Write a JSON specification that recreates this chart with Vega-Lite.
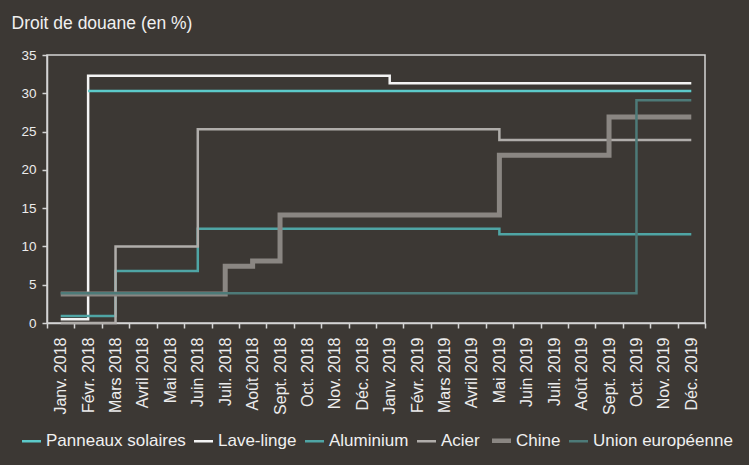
{
  "$schema": "https://vega.github.io/schema/vega-lite/v6.json",
  "width": 658,
  "height": 268,
  "autosize": "none",
  "padding": {"left": 47, "top": 55, "right": 44, "bottom": 142},
  "background": "#3c3834",
  "config": {
    "view": {"stroke": "#d4d4d4", "strokeWidth": 1.5},
    "axis": {
      "domainColor": "#d4d4d4", "domainWidth": 1.5,
      "tickColor": "#d4d4d4", "tickWidth": 1.5, "tickSize": 5,
      "labelColor": "#ececec", "labelFont": "Liberation Sans", "labelFontSize": 14,
      "grid": false
    },
    "legend": {"labelFont": "Liberation Sans"}
  },
  "data": {"values": [
    {"mois":"Janv. 2018","serie":"Lave-linge","valeur":0.5},
    {"mois":"Févr. 2018","serie":"Lave-linge","valeur":32.3},
    {"mois":"Mars 2018","serie":"Lave-linge","valeur":32.3},
    {"mois":"Avril 2018","serie":"Lave-linge","valeur":32.3},
    {"mois":"Mai 2018","serie":"Lave-linge","valeur":32.3},
    {"mois":"Juin 2018","serie":"Lave-linge","valeur":32.3},
    {"mois":"Juil. 2018","serie":"Lave-linge","valeur":32.3},
    {"mois":"Août 2018","serie":"Lave-linge","valeur":32.3},
    {"mois":"Sept. 2018","serie":"Lave-linge","valeur":32.3},
    {"mois":"Oct. 2018","serie":"Lave-linge","valeur":32.3},
    {"mois":"Nov. 2018","serie":"Lave-linge","valeur":32.3},
    {"mois":"Déc. 2018","serie":"Lave-linge","valeur":32.3},
    {"mois":"Janv. 2019","serie":"Lave-linge","valeur":31.3},
    {"mois":"Févr. 2019","serie":"Lave-linge","valeur":31.3},
    {"mois":"Mars 2019","serie":"Lave-linge","valeur":31.3},
    {"mois":"Avril 2019","serie":"Lave-linge","valeur":31.3},
    {"mois":"Mai 2019","serie":"Lave-linge","valeur":31.3},
    {"mois":"Juin 2019","serie":"Lave-linge","valeur":31.3},
    {"mois":"Juil. 2019","serie":"Lave-linge","valeur":31.3},
    {"mois":"Août 2019","serie":"Lave-linge","valeur":31.3},
    {"mois":"Sept. 2019","serie":"Lave-linge","valeur":31.3},
    {"mois":"Oct. 2019","serie":"Lave-linge","valeur":31.3},
    {"mois":"Nov. 2019","serie":"Lave-linge","valeur":31.3},
    {"mois":"Déc. 2019","serie":"Lave-linge","valeur":31.3},

    {"mois":"Févr. 2018","serie":"Panneaux solaires","valeur":30.3},
    {"mois":"Mars 2018","serie":"Panneaux solaires","valeur":30.3},
    {"mois":"Avril 2018","serie":"Panneaux solaires","valeur":30.3},
    {"mois":"Mai 2018","serie":"Panneaux solaires","valeur":30.3},
    {"mois":"Juin 2018","serie":"Panneaux solaires","valeur":30.3},
    {"mois":"Juil. 2018","serie":"Panneaux solaires","valeur":30.3},
    {"mois":"Août 2018","serie":"Panneaux solaires","valeur":30.3},
    {"mois":"Sept. 2018","serie":"Panneaux solaires","valeur":30.3},
    {"mois":"Oct. 2018","serie":"Panneaux solaires","valeur":30.3},
    {"mois":"Nov. 2018","serie":"Panneaux solaires","valeur":30.3},
    {"mois":"Déc. 2018","serie":"Panneaux solaires","valeur":30.3},
    {"mois":"Janv. 2019","serie":"Panneaux solaires","valeur":30.3},
    {"mois":"Févr. 2019","serie":"Panneaux solaires","valeur":30.3},
    {"mois":"Mars 2019","serie":"Panneaux solaires","valeur":30.3},
    {"mois":"Avril 2019","serie":"Panneaux solaires","valeur":30.3},
    {"mois":"Mai 2019","serie":"Panneaux solaires","valeur":30.3},
    {"mois":"Juin 2019","serie":"Panneaux solaires","valeur":30.3},
    {"mois":"Juil. 2019","serie":"Panneaux solaires","valeur":30.3},
    {"mois":"Août 2019","serie":"Panneaux solaires","valeur":30.3},
    {"mois":"Sept. 2019","serie":"Panneaux solaires","valeur":30.3},
    {"mois":"Oct. 2019","serie":"Panneaux solaires","valeur":30.3},
    {"mois":"Nov. 2019","serie":"Panneaux solaires","valeur":30.3},
    {"mois":"Déc. 2019","serie":"Panneaux solaires","valeur":30.3},

    {"mois":"Janv. 2018","serie":"Aluminium","valeur":0.9},
    {"mois":"Févr. 2018","serie":"Aluminium","valeur":0.9},
    {"mois":"Mars 2018","serie":"Aluminium","valeur":6.8},
    {"mois":"Avril 2018","serie":"Aluminium","valeur":6.8},
    {"mois":"Mai 2018","serie":"Aluminium","valeur":6.8},
    {"mois":"Juin 2018","serie":"Aluminium","valeur":12.3},
    {"mois":"Juil. 2018","serie":"Aluminium","valeur":12.3},
    {"mois":"Août 2018","serie":"Aluminium","valeur":12.3},
    {"mois":"Sept. 2018","serie":"Aluminium","valeur":12.3},
    {"mois":"Oct. 2018","serie":"Aluminium","valeur":12.3},
    {"mois":"Nov. 2018","serie":"Aluminium","valeur":12.3},
    {"mois":"Déc. 2018","serie":"Aluminium","valeur":12.3},
    {"mois":"Janv. 2019","serie":"Aluminium","valeur":12.3},
    {"mois":"Févr. 2019","serie":"Aluminium","valeur":12.3},
    {"mois":"Mars 2019","serie":"Aluminium","valeur":12.3},
    {"mois":"Avril 2019","serie":"Aluminium","valeur":12.3},
    {"mois":"Mai 2019","serie":"Aluminium","valeur":11.6},
    {"mois":"Juin 2019","serie":"Aluminium","valeur":11.6},
    {"mois":"Juil. 2019","serie":"Aluminium","valeur":11.6},
    {"mois":"Août 2019","serie":"Aluminium","valeur":11.6},
    {"mois":"Sept. 2019","serie":"Aluminium","valeur":11.6},
    {"mois":"Oct. 2019","serie":"Aluminium","valeur":11.6},
    {"mois":"Nov. 2019","serie":"Aluminium","valeur":11.6},
    {"mois":"Déc. 2019","serie":"Aluminium","valeur":11.6},

    {"mois":"Janv. 2018","serie":"Acier","valeur":0},
    {"mois":"Févr. 2018","serie":"Acier","valeur":0},
    {"mois":"Mars 2018","serie":"Acier","valeur":10},
    {"mois":"Avril 2018","serie":"Acier","valeur":10},
    {"mois":"Mai 2018","serie":"Acier","valeur":10},
    {"mois":"Juin 2018","serie":"Acier","valeur":25.3},
    {"mois":"Juil. 2018","serie":"Acier","valeur":25.3},
    {"mois":"Août 2018","serie":"Acier","valeur":25.3},
    {"mois":"Sept. 2018","serie":"Acier","valeur":25.3},
    {"mois":"Oct. 2018","serie":"Acier","valeur":25.3},
    {"mois":"Nov. 2018","serie":"Acier","valeur":25.3},
    {"mois":"Déc. 2018","serie":"Acier","valeur":25.3},
    {"mois":"Janv. 2019","serie":"Acier","valeur":25.3},
    {"mois":"Févr. 2019","serie":"Acier","valeur":25.3},
    {"mois":"Mars 2019","serie":"Acier","valeur":25.3},
    {"mois":"Avril 2019","serie":"Acier","valeur":25.3},
    {"mois":"Mai 2019","serie":"Acier","valeur":23.9},
    {"mois":"Juin 2019","serie":"Acier","valeur":23.9},
    {"mois":"Juil. 2019","serie":"Acier","valeur":23.9},
    {"mois":"Août 2019","serie":"Acier","valeur":23.9},
    {"mois":"Sept. 2019","serie":"Acier","valeur":23.9},
    {"mois":"Oct. 2019","serie":"Acier","valeur":23.9},
    {"mois":"Nov. 2019","serie":"Acier","valeur":23.9},
    {"mois":"Déc. 2019","serie":"Acier","valeur":23.9},

    {"mois":"Janv. 2018","serie":"Chine","valeur":3.8},
    {"mois":"Févr. 2018","serie":"Chine","valeur":3.8},
    {"mois":"Mars 2018","serie":"Chine","valeur":3.8},
    {"mois":"Avril 2018","serie":"Chine","valeur":3.8},
    {"mois":"Mai 2018","serie":"Chine","valeur":3.8},
    {"mois":"Juin 2018","serie":"Chine","valeur":3.8},
    {"mois":"Juil. 2018","serie":"Chine","valeur":7.4},
    {"mois":"Août 2018","serie":"Chine","valeur":8.1},
    {"mois":"Sept. 2018","serie":"Chine","valeur":14.1},
    {"mois":"Oct. 2018","serie":"Chine","valeur":14.1},
    {"mois":"Nov. 2018","serie":"Chine","valeur":14.1},
    {"mois":"Déc. 2018","serie":"Chine","valeur":14.1},
    {"mois":"Janv. 2019","serie":"Chine","valeur":14.1},
    {"mois":"Févr. 2019","serie":"Chine","valeur":14.1},
    {"mois":"Mars 2019","serie":"Chine","valeur":14.1},
    {"mois":"Avril 2019","serie":"Chine","valeur":14.1},
    {"mois":"Mai 2019","serie":"Chine","valeur":21.9},
    {"mois":"Juin 2019","serie":"Chine","valeur":21.9},
    {"mois":"Juil. 2019","serie":"Chine","valeur":21.9},
    {"mois":"Août 2019","serie":"Chine","valeur":21.9},
    {"mois":"Sept. 2019","serie":"Chine","valeur":26.9},
    {"mois":"Oct. 2019","serie":"Chine","valeur":26.9},
    {"mois":"Nov. 2019","serie":"Chine","valeur":26.9},
    {"mois":"Déc. 2019","serie":"Chine","valeur":26.9},

    {"mois":"Janv. 2018","serie":"Union européenne","valeur":3.9},
    {"mois":"Févr. 2018","serie":"Union européenne","valeur":3.9},
    {"mois":"Mars 2018","serie":"Union européenne","valeur":3.9},
    {"mois":"Avril 2018","serie":"Union européenne","valeur":3.9},
    {"mois":"Mai 2018","serie":"Union européenne","valeur":3.9},
    {"mois":"Juin 2018","serie":"Union européenne","valeur":3.9},
    {"mois":"Juil. 2018","serie":"Union européenne","valeur":3.9},
    {"mois":"Août 2018","serie":"Union européenne","valeur":3.9},
    {"mois":"Sept. 2018","serie":"Union européenne","valeur":3.9},
    {"mois":"Oct. 2018","serie":"Union européenne","valeur":3.9},
    {"mois":"Nov. 2018","serie":"Union européenne","valeur":3.9},
    {"mois":"Déc. 2018","serie":"Union européenne","valeur":3.9},
    {"mois":"Janv. 2019","serie":"Union européenne","valeur":3.9},
    {"mois":"Févr. 2019","serie":"Union européenne","valeur":3.9},
    {"mois":"Mars 2019","serie":"Union européenne","valeur":3.9},
    {"mois":"Avril 2019","serie":"Union européenne","valeur":3.9},
    {"mois":"Mai 2019","serie":"Union européenne","valeur":3.9},
    {"mois":"Juin 2019","serie":"Union européenne","valeur":3.9},
    {"mois":"Juil. 2019","serie":"Union européenne","valeur":3.9},
    {"mois":"Août 2019","serie":"Union européenne","valeur":3.9},
    {"mois":"Sept. 2019","serie":"Union européenne","valeur":3.9},
    {"mois":"Oct. 2019","serie":"Union européenne","valeur":29.1},
    {"mois":"Nov. 2019","serie":"Union européenne","valeur":29.1},
    {"mois":"Déc. 2019","serie":"Union européenne","valeur":29.1}
  ]},
  "mark": {"type": "line", "interpolate": "step-after"},
  "encoding": {
    "x": {
      "field": "mois", "type": "ordinal",
      "sort": ["Janv. 2018","Févr. 2018","Mars 2018","Avril 2018","Mai 2018","Juin 2018","Juil. 2018","Août 2018","Sept. 2018","Oct. 2018","Nov. 2018","Déc. 2018","Janv. 2019","Févr. 2019","Mars 2019","Avril 2019","Mai 2019","Juin 2019","Juil. 2019","Août 2019","Sept. 2019","Oct. 2019","Nov. 2019","Déc. 2019"],
      "scale": {"type": "band", "paddingInner": 0, "paddingOuter": 0},
      "axis": {"title": null, "labelAngle": -90, "labelPadding": 9, "labelFontSize": 16, "tickBand": "extent"}
    },
    "y": {
      "field": "valeur", "type": "quantitative",
      "scale": {"domain": [0, 35], "nice": false, "zero": true},
      "axis": {
        "values": [0, 5, 10, 15, 20, 25, 30, 35],
        "labelPadding": 6, "labelFontSize": 13.5,
        "title": "Droit de douane (en %)",
        "titleAngle": 0, "titleAlign": "left", "titleBaseline": "alphabetic",
        "titleX": -36, "titleY": -27,
        "titleFont": "Liberation Sans", "titleFontSize": 17.5, "titleFontWeight": "normal", "titleColor": "#f0f0f0"
      }
    },
    "color": {
      "field": "serie", "type": "nominal",
      "scale": {
        "domain": ["Panneaux solaires","Lave-linge","Aluminium","Acier","Chine","Union européenne"],
        "range": ["#5ccaca","#f4f4f4","#4fa5a5","#b0adaa","#8a8682","#4d7a78"]
      },
      "legend": {
        "title": null, "orient": "none", "direction": "horizontal",
        "legendX": -24, "legendY": 377,
        "symbolType": "stroke", "symbolSize": 361,
        "labelFontSize": 17, "labelColor": "#f0f0f0", "labelOffset": 6,
        "columnPadding": 3, "padding": 0,
        "encode": {"symbols": {"update": {"strokeWidth": {"signal": "datum.value === 'Chine' ? 4.5 : 2.5"}}}}
      }
    },
    "strokeWidth": {"condition": {"test": "datum.serie === 'Chine'", "value": 5}, "value": 2.5},
    "order": {"field": "serie", "type": "nominal"}
  }
}
